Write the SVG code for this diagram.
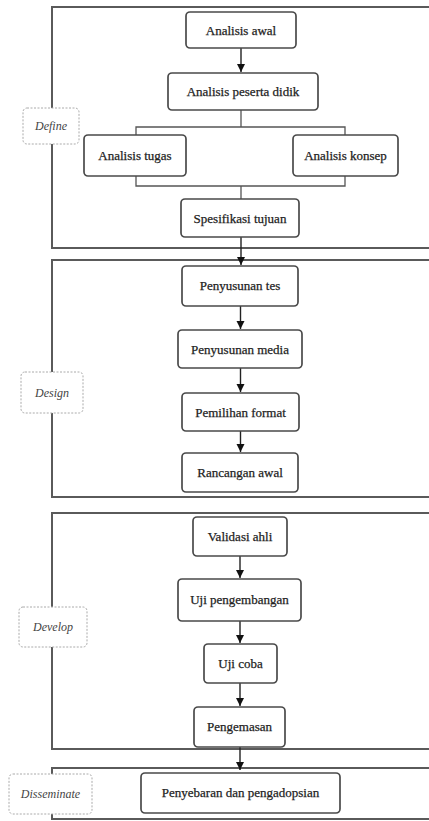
<svg xmlns="http://www.w3.org/2000/svg" width="429" height="821" viewBox="0 0 429 821">
<style>
.phase{fill:none;stroke:#5a5a5a;stroke-width:2}
.node rect{fill:#fff;stroke:#4a4a4a;stroke-width:1.7}
.node text{font-family:"Liberation Serif","DejaVu Serif",serif;font-size:13px;fill:#222;stroke:#222;stroke-width:0.25;text-anchor:middle}
.lbl rect{fill:#fff;stroke:#aaa;stroke-width:1;stroke-dasharray:2 1.5}
.lbl text{font-family:"Liberation Serif","DejaVu Serif",serif;font-style:italic;font-size:12px;fill:#444;text-anchor:middle}
.conn path{fill:none;stroke:#222;stroke-width:1.4}
.brk path{fill:none;stroke:#555;stroke-width:1.3}
</style>
<defs>
<marker id="arr" viewBox="0 0 10 10" refX="10" refY="5" markerWidth="8" markerHeight="10" orient="auto" markerUnits="userSpaceOnUse">
<path d="M0,0 L10,5 L0,10 Z" fill="#111"/>
</marker>
</defs>
<rect width="429" height="821" fill="#fff"/>
<g id="phase-define"><rect class="phase" x="52" y="7" width="400" height="241"/></g>
<g id="phase-design"><rect class="phase" x="52" y="260" width="400" height="237"/></g>
<g id="phase-develop"><rect class="phase" x="52" y="513" width="400" height="236"/></g>
<g id="phase-disseminate"><rect class="phase" x="52" y="768" width="400" height="51"/></g>

<g id="connectors">
<g class="conn">
<path d="M241,48 V72" marker-end="url(#arr)"/>
<path d="M241,237 V265" marker-end="url(#arr)"/>
<path d="M240.5,306 V329" marker-end="url(#arr)"/>
<path d="M240.5,368 V392" marker-end="url(#arr)"/>
<path d="M240.5,431 V452" marker-end="url(#arr)"/>
<path d="M240,556 V578" marker-end="url(#arr)"/>
<path d="M240,621 V643" marker-end="url(#arr)"/>
<path d="M240,683 V706" marker-end="url(#arr)"/>
<path d="M240,747 V770" marker-end="url(#arr)"/>
</g>
<g class="brk">
<path d="M241,110 V127 M136,135 V127 H345 V135"/>
<path d="M136,176 V186 H345 V176 M241,186 V199"/>
</g>
</g>

<g id="n-analisis-awal" class="node"><rect x="186" y="12" width="110" height="36" rx="4"/><text x="241" y="34.5">Analisis awal</text></g>
<g id="n-peserta-didik" class="node"><rect x="168" y="73" width="150" height="37" rx="4"/><text x="243" y="96">Analisis peserta didik</text></g>
<g id="n-tugas" class="node"><rect x="84" y="135" width="102" height="41" rx="4"/><text x="135" y="160">Analisis tugas</text></g>
<g id="n-konsep" class="node"><rect x="293" y="135" width="105" height="41" rx="4"/><text x="345.5" y="160">Analisis konsep</text></g>
<g id="n-spesifikasi" class="node"><rect x="181" y="199" width="118" height="38" rx="4"/><text x="240" y="222.5">Spesifikasi tujuan</text></g>

<g id="n-penyusunan-tes" class="node"><rect x="182" y="266" width="116" height="40" rx="4"/><text x="240" y="290">Penyusunan tes</text></g>
<g id="n-penyusunan-media" class="node"><rect x="178" y="330" width="124" height="38" rx="4"/><text x="240" y="353.5">Penyusunan media</text></g>
<g id="n-pemilihan-format" class="node"><rect x="182" y="393" width="117" height="38" rx="4"/><text x="240.5" y="416.5">Pemilihan format</text></g>
<g id="n-rancangan-awal" class="node"><rect x="182" y="453" width="116" height="39" rx="4"/><text x="240" y="477">Rancangan awal</text></g>

<g id="n-validasi" class="node"><rect x="193" y="517" width="94" height="39" rx="4"/><text x="240" y="541">Validasi ahli</text></g>
<g id="n-uji-pengembangan" class="node"><rect x="178" y="579" width="123" height="42" rx="4"/><text x="239.5" y="604">Uji pengembangan</text></g>
<g id="n-uji-coba" class="node"><rect x="204" y="644" width="73" height="39" rx="4"/><text x="240.5" y="668">Uji coba</text></g>
<g id="n-pengemasan" class="node"><rect x="194" y="707" width="91" height="40" rx="4"/><text x="239.5" y="731">Pengemasan</text></g>

<g id="n-penyebaran" class="node"><rect x="141" y="773" width="199" height="40" rx="4"/><text x="240.5" y="797">Penyebaran dan pengadopsian</text></g>

<g id="l-define" class="lbl"><rect x="23" y="108" width="56" height="36" rx="4"/><text x="51" y="130">Define</text></g>
<g id="l-design" class="lbl"><rect x="21" y="372" width="62" height="41" rx="4"/><text x="52" y="396.5">Design</text></g>
<g id="l-develop" class="lbl"><rect x="19" y="607" width="68" height="40" rx="4"/><text x="53" y="631">Develop</text></g>
<g id="l-disseminate" class="lbl"><rect x="9" y="774" width="83" height="40" rx="4"/><text x="50.5" y="798">Disseminate</text></g>
</svg>
